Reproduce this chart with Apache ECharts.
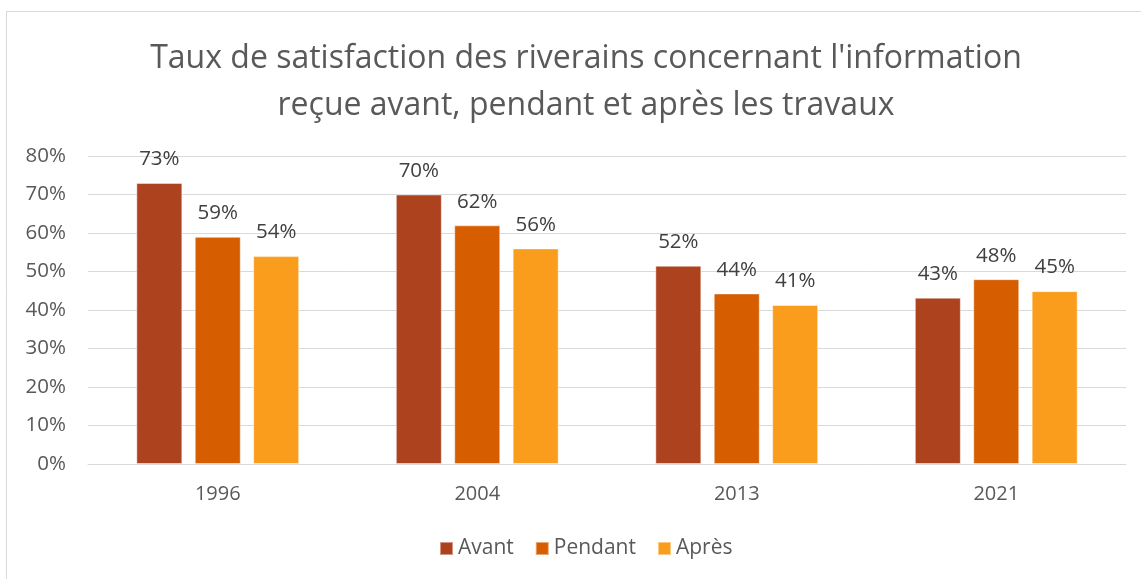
<!DOCTYPE html>
<html>
<head>
<meta charset="utf-8">
<script src="https://cdn.jsdelivr.net/npm/echarts@6/dist/echarts.min.js"></script>
<style>
  html, body { margin: 0; padding: 0; background: #fff; }
  #chart { width: 1141px; height: 579px; }
</style>
</head>
<body>
<div id="chart"></div>
<script>
var years = ['1996', '2004', '2013', '2021'];
var avant = [73, 70, 51.5, 43.2];
var pendant = [59, 62, 44.3, 48.0];
var apres = [54, 56, 41.3, 44.9];
var yTicks = [0, 10, 20, 30, 40, 50, 60, 70, 80];

(function () {
  var font = '"Open Sans", sans-serif';
  var ink = '#595959';
  var rule = '#d9d9d9';

  function bar(name, data, color) {
    return {
      name: name, type: 'bar', data: data, barWidth: 46, barGap: '27%',
      itemStyle: { color: color, borderColor: 'rgba(255,255,255,0.45)', borderWidth: 1 },
      label: {
        show: true, position: 'top', distance: 13, color: '#404040', fontSize: 20.5, fontFamily: font,
        formatter: function (p) { return Math.round(p.value) + '%'; }
      }
    };
  }

  var c = echarts.init(document.getElementById('chart'), null, { renderer: 'canvas' });
  c.setOption({
    animation: false,
    backgroundColor: '#fff',
    graphic: [{
      type: 'rect', shape: { x: 6.5, y: 11.5, width: 1200, height: 700 },
      style: { fill: 'none', stroke: rule, lineWidth: 1 }, silent: true
    }],
    title: {
      text: "Taux de satisfaction des riverains concernant l'information\nreçue avant, pendant et après les travaux",
      left: 581, textAlign: 'center', top: 30,
      textStyle: { color: ink, fontSize: 32, fontWeight: 'normal', fontFamily: font, lineHeight: 47 }
    },
    legend: {
      data: ['Avant', 'Pendant', 'Après'], bottom: 15, left: 434,
      itemWidth: 13, itemHeight: 13, itemGap: 21, icon: 'rect',
      textStyle: { color: ink, fontSize: 21, fontFamily: font, padding: [0, 0, 0, 0] }
    },
    grid: { left: 88, right: 15, top: 156, bottom: 115 },
    xAxis: {
      type: 'category', data: years,
      axisLine: { lineStyle: { color: rule, width: 1 } },
      axisTick: { show: false },
      axisLabel: { color: ink, fontSize: 20, fontFamily: font, margin: 20 }
    },
    yAxis: {
      type: 'value', min: yTicks[0], max: yTicks[yTicks.length - 1], interval: 10,
      axisLine: { show: false }, axisTick: { show: false },
      splitLine: { lineStyle: { color: rule, width: 1 } },
      axisLabel: { color: ink, fontSize: 20.5, fontFamily: font, margin: 22, formatter: '{value}%' }
    },
    series: [
      bar('Avant', avant, '#ad431e'),
      bar('Pendant', pendant, '#d65e00'),
      bar('Après', apres, '#fb9d1c')
    ]
  });
})();
</script>
</body>
</html>
